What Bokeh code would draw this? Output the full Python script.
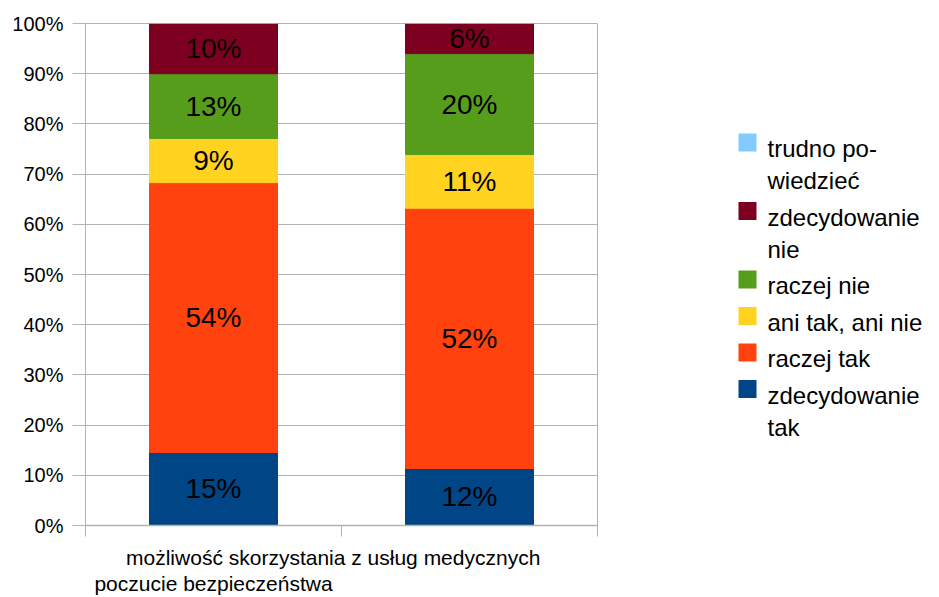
from bokeh.plotting import figure
from bokeh.models import LinearAxis, FixedTicker, ColumnDataSource, Range1d
from bokeh.layouts import row
from bokeh.core.properties import value
from bokeh.embed import file_html
from bokeh.resources import INLINE

# ---------------- data ----------------
categories = ["poczucie bezpieczeństwa", "możliwość skorzystania z usług medycznych"]
series = ["zdecydowanie tak", "raczej tak", "ani tak, ani nie", "raczej nie",
          "zdecydowanie nie", "trudno powiedzieć"]
colors = ["#004586", "#FF420E", "#FFD320", "#579D1C", "#7E0021", "#83CAFF"]

zdecydowanie_tak = [14.55, 11.36]
raczej_tak = [53.75, 51.84]
ani_tak_ani_nie = [8.8, 10.7]
raczej_nie = [12.9, 20.1]
zdecydowanie_nie = [10.0, 6.0]
trudno_powiedziec = [0.0, 0.0]

label_zdecydowanie_tak = ["15%", "12%"]
label_raczej_tak = ["54%", "52%"]
label_ani_tak_ani_nie = ["9%", "11%"]
label_raczej_nie = ["13%", "20%"]
label_zdecydowanie_nie = ["10%", "6%"]
label_trudno_powiedziec = ["", ""]

legend_lines = {
    "trudno powiedzieć": ["trudno po-", "wiedzieć"],
    "zdecydowanie nie": ["zdecydowanie", "nie"],
    "raczej nie": ["raczej nie"],
    "ani tak, ani nie": ["ani tak, ani nie"],
    "raczej tak": ["raczej tak"],
    "zdecydowanie tak": ["zdecydowanie", "tak"],
}

y_ticks = [0, 10, 20, 30, 40, 50, 60, 70, 80, 90, 100]
y_tick_labels = ["0%", "10%", "20%", "30%", "40%", "50%", "60%", "70%", "80%", "90%", "100%"]

# ---------------- style ----------------
FONT = value("Liberation Sans")
GRID = "#b3b3b3"
TOP, BOTTOM = 23, 72

values = [zdecydowanie_tak, raczej_tak, ani_tak_ani_nie, raczej_nie, zdecydowanie_nie, trudno_powiedziec]
labels = [label_zdecydowanie_tak, label_raczej_tak, label_ani_tak_ani_nie, label_raczej_nie,
          label_zdecydowanie_nie, label_trudno_powiedziec]

xs = [i + 0.5 for i in range(len(categories))]
data = {"x": xs}
for name, vals in zip(series, values):
    data[name] = vals
source = ColumnDataSource(data)

p = figure(width=608, height=597, x_range=Range1d(0, len(categories)), y_range=Range1d(0, 100),
           x_axis_type=None, toolbar_location=None, output_backend="svg",
           min_border_left=85, min_border_right=11, min_border_top=TOP, min_border_bottom=BOTTOM)

p.vbar_stack(series, x="x", width=0.5, color=colors, source=source)

# segment labels
lx, ly, lt = [], [], []
for ci, x in enumerate(xs):
    bottom = 0.0
    for vals, labs in zip(values, labels):
        v = vals[ci]
        if v > 0 and labs[ci]:
            lx.append(x)
            ly.append(bottom + v / 2)
            lt.append(labs[ci])
        bottom += v
p.text(x=lx, y=ly, text=lt, text_align="center", text_baseline="middle",
       text_font=FONT, text_font_size="28px", text_color="#000000")

# y axis
p.yaxis.ticker = FixedTicker(ticks=y_ticks)
p.yaxis.major_label_overrides = {t: l for t, l in zip(y_ticks, y_tick_labels)}
p.yaxis.major_label_text_font = "Liberation Sans"
p.yaxis.major_label_text_font_size = "20px"
p.yaxis.major_label_text_color = "#000000"
p.yaxis.major_tick_out = 13
p.yaxis.major_tick_in = 0
p.yaxis.minor_tick_line_color = None
p.yaxis.major_tick_line_color = GRID
p.yaxis.axis_line_color = GRID
p.yaxis.major_label_standoff = 9
p.ygrid.ticker = FixedTicker(ticks=y_ticks)
p.ygrid.grid_line_color = GRID
p.outline_line_color = GRID

# x axes (staggered category labels)
bounds = list(range(len(categories) + 1))
ax1 = LinearAxis(ticker=FixedTicker(ticks=[xs[1]], minor_ticks=bounds),
                 major_label_overrides={xs[1]: categories[1]})
ax1.major_tick_line_color = None
ax1.major_tick_out = 11
ax1.major_tick_in = 0
ax1.minor_tick_out = 11
ax1.minor_tick_in = 0
ax1.minor_tick_line_color = GRID
ax1.axis_line_color = GRID
ax1.axis_line_width = 1.5
ax1.major_label_standoff = 9
ax1.major_label_text_font = "Liberation Sans"
ax1.major_label_text_font_size = "21px"
ax1.major_label_text_color = "#000000"

ax2 = LinearAxis(ticker=FixedTicker(ticks=[xs[0]]),
                 major_label_overrides={xs[0]: categories[0]})
ax2.axis_line_color = None
ax2.major_tick_line_color = None
ax2.minor_tick_line_color = None
ax2.major_tick_out = 0
ax2.major_tick_in = 0
ax2.minor_tick_out = 0
ax2.minor_tick_in = 0
ax2.major_label_standoff = 0
ax2.major_label_text_font = "Liberation Sans"
ax2.major_label_text_font_size = "21px"
ax2.major_label_text_color = "#000000"

p.add_layout(ax1, "below")
p.add_layout(ax2, "below")

# ---------------- legend (separate panel, frame aligned with main plot) ----------------
LW, LH = 330, 597
lg = figure(width=LW, height=LH, x_range=Range1d(0, LW), y_range=Range1d(LH - BOTTOM, TOP),
            x_axis_type=None, y_axis_type=None, toolbar_location=None, output_backend="svg",
            min_border_left=0, min_border_right=0, min_border_top=TOP, min_border_bottom=BOTTOM)
lg.grid.visible = False
lg.outline_line_color = None

sq_x, sq_y, sq_c = [], [], []
tx, ty, tt = [], [], []
top = 133.0
for name, col in reversed(list(zip(series, colors))):
    lines = legend_lines[name]
    sq_x.append(139)
    sq_y.append(top + 9)
    sq_c.append(col)
    for li, line in enumerate(lines):
        tx.append(159)
        ty.append(top + 15 + 32 * li)
        tt.append(line)
    top += 32 * len(lines) + 4.5

lg.rect(x=sq_x, y=sq_y, width=18, height=18, fill_color=sq_c, line_color=None)
lg.text(x=tx, y=ty, text=tt, text_align="left", text_baseline="alphabetic",
        text_font=FONT, text_font_size="24px", text_color="#000000")

layout = row(p, lg)
open("out.html", "w").write(file_html(layout, INLINE))
